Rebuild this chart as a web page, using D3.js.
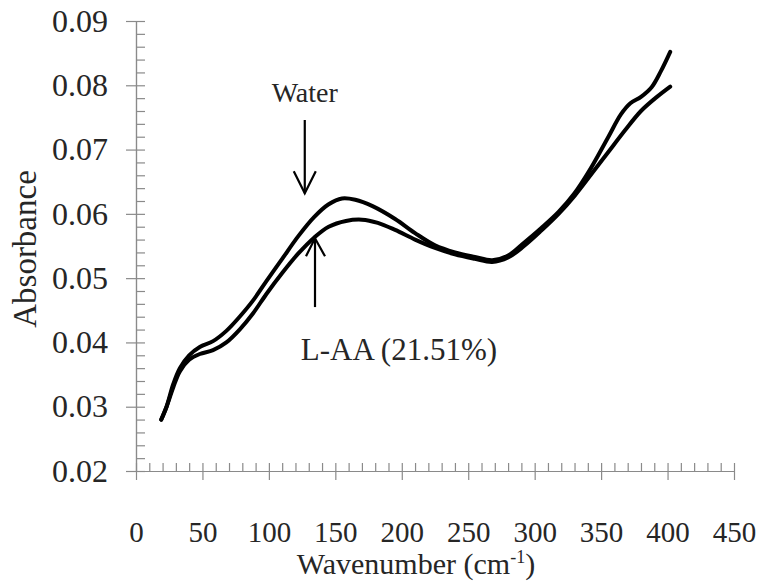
<!DOCTYPE html>
<html>
<head>
<meta charset="utf-8">
<script src="https://cdn.jsdelivr.net/npm/d3@7"></script>
</head>
<body style="margin:0">
<svg id="chart" width="764" height="584"></svg>
<script>
// ---- data ----
const xTicks = [0, 50, 100, 150, 200, 250, 300, 350, 400, 450];
const yTicks = [0.02, 0.03, 0.04, 0.05, 0.06, 0.07, 0.08, 0.09];
const waterWavenumber = [19, 23, 28, 33, 40, 48, 58, 68, 78, 88, 98, 110, 122, 134, 145, 155, 165, 178, 195, 210, 225, 240, 255, 268, 280, 292, 305, 318, 330, 342, 355, 365, 372, 380, 388, 395, 402];
const waterAbsorbance = [0.0280, 0.0300, 0.0335, 0.0360, 0.0380, 0.0393, 0.0402, 0.0418, 0.0440, 0.0465, 0.0495, 0.0530, 0.0565, 0.0595, 0.0615, 0.0624, 0.0622, 0.0612, 0.0592, 0.0570, 0.0551, 0.0540, 0.0533, 0.0528, 0.0535, 0.0555, 0.0578, 0.0603, 0.0632, 0.0670, 0.0718, 0.0755, 0.0772, 0.0782, 0.0797, 0.0822, 0.0852];
const laaWavenumber = [19, 23, 28, 33, 40, 48, 58, 68, 78, 88, 98, 110, 122, 134, 145, 158, 170, 182, 195, 210, 225, 240, 255, 268, 280, 292, 305, 318, 330, 342, 355, 368, 380, 392, 402];
const laaAbsorbance = [0.0280, 0.0300, 0.0330, 0.0355, 0.0373, 0.0382, 0.0388, 0.0400, 0.0420, 0.0445, 0.0475, 0.0508, 0.0538, 0.0563, 0.0580, 0.0589, 0.0591, 0.0586, 0.0575, 0.0560, 0.0547, 0.0537, 0.0530, 0.0525, 0.0532, 0.0550, 0.0574, 0.0600, 0.0628, 0.0660, 0.0695, 0.0730, 0.0760, 0.0782, 0.0798];
const xLabel = "Wavenumber";
const yLabel = "Absorbance";
const waterLabel = "Water";
const laaLabel = "L-AA (21.51%)";

// ---- layout ----
const svg = d3.select("#chart");
const x = d3.scaleLinear().domain([0, 450]).range([136, 734]);
const y = d3.scaleLinear().domain([0.02, 0.09]).range([471, 21]);
const axisColor = "#8a8a8a";
const textColor = "#262626";
function serif(sel, size) {
  return sel.attr("font-family", "Liberation Serif")
    .style("font-family", '"Liberation Serif"')
    .style("font-size", size + "px");
}

const xMinor = d3.range(0, 451, 10);
const yMinor = d3.range(0, 36).map(i => +(0.02 + i * 0.002).toFixed(3));

const gy = svg.append("g").attr("transform", `translate(${x(0)},0)`)
  .call(d3.axisLeft(y).tickValues(yTicks).tickFormat(d3.format(".2f"))
    .tickSizeInner(10).tickSizeOuter(0).tickPadding(18));
const gy2 = svg.append("g").attr("transform", `translate(${x(0)},0)`)
  .call(d3.axisRight(y).tickValues(yMinor).tickFormat("").tickSizeInner(9).tickSizeOuter(0));
const gx = svg.append("g").attr("transform", `translate(0,${y(0.02)})`)
  .call(d3.axisBottom(x).tickValues(xTicks).tickFormat(d3.format("d"))
    .tickSizeInner(9).tickSizeOuter(0).tickPadding(41));
const gx2 = svg.append("g").attr("transform", `translate(0,${y(0.02)})`)
  .call(d3.axisTop(x).tickValues(xMinor).tickFormat("").tickSizeInner(8).tickSizeOuter(0));

[gy, gy2, gx, gx2].forEach(g => {
  g.attr("font-family", "Liberation Serif").attr("font-size", null);
  g.selectAll("path.domain").attr("stroke", axisColor).attr("stroke-width", 1.2);
  g.selectAll("line").attr("stroke", axisColor).attr("stroke-width", 1.2);
  g.selectAll("text").attr("fill", textColor);
});
serif(gy.selectAll("text"), 32);
serif(gx.selectAll("text"), 29);

// ---- curves ----
const line = d3.line().x(d => x(d[0])).y(d => y(d[1])).curve(d3.curveCatmullRom.alpha(0.5));
const water = waterWavenumber.map((v, i) => [v, waterAbsorbance[i]]);
const laa = laaWavenumber.map((v, i) => [v, laaAbsorbance[i]]);
[laa, water].forEach(s => {
  svg.append("path").datum(s).attr("d", line)
    .attr("fill", "none").attr("stroke", "#000").attr("stroke-width", 4)
    .attr("stroke-linecap", "round").attr("stroke-linejoin", "round");
});

// ---- annotations ----
const wx = x(127);
serif(svg.append("text"), 28).attr("x", wx).attr("y", y(0.0774)).attr("text-anchor", "middle")
  .attr("fill", textColor).text(waterLabel);
svg.append("line").attr("x1", wx).attr("x2", wx).attr("y1", y(0.0746)).attr("y2", y(0.0632))
  .attr("stroke", "#000").attr("stroke-width", 2.2);
svg.append("path")
  .attr("d", `M${wx - 11},${y(0.0632) - 22}L${wx},${y(0.0632)}L${wx + 11},${y(0.0632) - 22}`)
  .attr("fill", "none").attr("stroke", "#000").attr("stroke-width", 2.2);

const lx = x(134.7);
svg.append("line").attr("x1", lx).attr("x2", lx).attr("y1", y(0.0455)).attr("y2", y(0.0562))
  .attr("stroke", "#000").attr("stroke-width", 2.2);
svg.append("path")
  .attr("d", `M${lx - 9},${y(0.0562) + 18}L${lx},${y(0.0562)}L${lx + 10},${y(0.0562) + 18}`)
  .attr("fill", "none").attr("stroke", "#000").attr("stroke-width", 2.2);
serif(svg.append("text"), 31).attr("x", x(124)).attr("y", y(0.0373))
  .attr("fill", textColor).text(laaLabel);

// ---- axis titles ----
const xt = serif(svg.append("text"), 30).attr("x", 416).attr("y", 574).attr("text-anchor", "middle")
  .attr("fill", textColor);
xt.append("tspan").text(xLabel + " (cm");
xt.append("tspan").attr("dy", -11).style("font-size", "18px").text("-1");
xt.append("tspan").attr("dy", 11).text(")");

serif(svg.append("text"), 33).attr("transform", `translate(36,249) rotate(-90)`)
  .attr("text-anchor", "middle").attr("fill", textColor).text(yLabel);
</script>
</body>
</html>
